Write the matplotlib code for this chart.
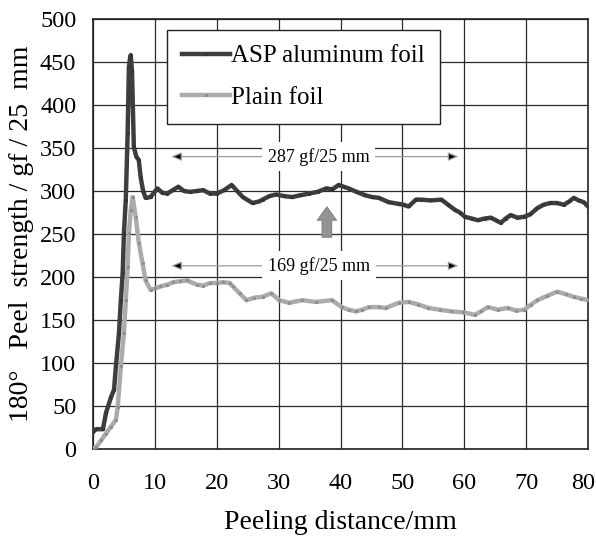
import matplotlib
matplotlib.use("Agg")
import matplotlib.pyplot as plt
from matplotlib.transforms import ScaledTranslation

plt.rcParams["font.family"] = ["Liberation Serif", "DejaVu Serif"]

# ----------------------------
# DATA
# ----------------------------
asp_x = [0, 0.5, 1.6, 2.1, 2.9, 3.4, 3.7, 4.2, 4.5, 4.8, 5.0, 5.3, 5.6, 5.8, 6.0,
         6.1, 6.3, 6.6, 7.0, 7.4, 7.7, 8.1, 8.5, 9.3, 10.4, 11.2, 12, 12.9, 13.8,
         14.7, 15.7, 16.8, 17.8, 18.9, 20, 21.2, 22.4, 23.3, 24.2, 25.8, 26.9,
         27.4, 28.5, 29.6, 30.9, 32.2, 33.5, 34.9, 36.3, 37.7, 38.7, 39.7, 40.5,
         41.3, 42.6, 44, 45.1, 46.2, 47.8, 49.4, 50.2, 51, 52.2, 53, 54.6, 56.3,
         57.4, 58.5, 59.3, 60.1, 61.2, 62.2, 63.3, 64.3, 65.1, 65.9, 66.7, 67.5,
         68.6, 69.7, 70.7, 71.8, 72.8, 73.9, 75, 76.1, 77, 77.7, 78.5, 79.3, 80]
asp_y = [20, 23, 23, 42, 60, 69, 96, 135, 173, 205, 251, 290, 367, 444, 455,
         458, 440, 351, 340, 336, 316, 300, 292, 293, 303, 298, 297, 301, 305,
         300, 299, 300, 301, 297, 297, 301, 307, 300, 293, 286, 288,
         290, 294, 296, 294, 293, 295, 297, 299, 303, 302, 307, 305,
         303, 299, 295, 293, 292, 287, 285, 284, 282, 290, 290, 289, 290,
         284, 278, 275, 270, 268, 266, 268, 269, 266, 263, 268, 272,
         269, 270, 273, 280, 284, 286, 286, 284, 288, 292, 289, 287, 282]

plain_x = [0, 0.5, 1.3, 2.1, 2.9, 3.7, 4.0, 4.5, 5.0, 5.3, 5.6, 5.8, 6.1, 6.4,
           6.9, 7.4, 8.0, 8.5, 9.3, 10.1, 10.9, 12, 13, 14.1, 15.2, 16.8, 17.8,
           18.9, 20, 21, 22.1, 22.6, 23.7, 24.8, 26.1, 27.4, 28.8, 30.1, 31.7,
           33.8, 36, 38.6, 40.2, 41.3, 42.5, 43.5, 44.6, 46.2, 47.3, 49.4, 51,
           52.6, 54.2, 56, 57.9, 59.8, 61.7, 62.7, 63.8, 65.4, 67, 68.4, 69.7,
           70.8, 71.8, 73.4, 75, 76.4, 77.7, 78.8, 80]
plain_y = [0, 2, 10, 18, 26, 34, 49, 96, 135, 173, 212, 251, 278, 293,
           270, 240, 216, 196, 185, 187, 189, 191, 194, 195, 196, 191, 190,
           193, 193, 194, 193, 189, 181, 173, 176, 177, 181, 173, 170,
           173, 171, 173, 165, 162, 160, 162, 165, 165, 164, 170, 171,
           168, 164, 162, 160, 159, 156, 160, 165, 162, 164, 161, 162,
           168, 173, 178, 183, 180, 177, 175, 173]

x_ticks = list(range(0, 81, 10))
y_ticks = list(range(0, 501, 50))

asp_label = "287 gf/25 mm"
plain_label = "169 gf/25 mm"

# ----------------------------
# PLOT
# ----------------------------
fig = plt.figure(figsize=(5.96, 5.36), dpi=100)
ax = fig.add_axes([93 / 596, 87 / 536, 495 / 596, 430 / 536])

ax.plot(asp_x, asp_y, color="#3e3e3e", lw=3.2, marker=".", ms=2.5,
        mfc="#333333", mec="#333333", label="ASP aluminum foil", zorder=4)
ax.plot(plain_x, plain_y, color="#ababab", lw=3.2, marker=".", ms=2.5,
        mfc="#8c8c8c", mec="#8c8c8c", label="Plain foil", zorder=3)

ax.set_xlim(0, 80)
ax.set_ylim(0, 500)
ax.set_xticks(x_ticks)
ax.set_yticks(y_ticks)
ax.grid(True, color="#2a2a2a", lw=0.9)
ax.set_axisbelow(True)
ax.tick_params(length=0, labelsize=17.5)
ax.tick_params(axis="x", pad=17)
ax.tick_params(axis="y", pad=12)
for s in ax.spines.values():
    s.set_color("#222222")
    s.set_linewidth(1.2)

# last x label sits a bit left of the right edge, as in the original
last = ax.get_xticklabels()[-1]
last.set_transform(last.get_transform() + ScaledTranslation(-5 / 100, 0, fig.dpi_scale_trans))

ax.set_xlabel("Peeling distance/mm", fontsize=20, labelpad=12)
ax.set_ylabel("180°   Peel  strength / gf / 25  mm", fontsize=20, labelpad=4)

# plateau annotations
for label, yv in [(asp_label, 340), (plain_label, 213)]:
    for end in (12.2, 59.5):
        ax.annotate("", xy=(end, yv), xytext=(36.5, yv),
                    arrowprops=dict(arrowstyle="-|>,head_length=0.6,head_width=0.25",
                                    fc="black", ec="#9a9a9a", lw=0.9),
                    zorder=5)
    ax.text(36.5, yv, label, ha="center", va="center", fontsize=13, zorder=6,
            bbox=dict(fc="white", ec="none", pad=4))

# upward arrow between curves
ax.annotate("", xy=(37.8, 285), xytext=(37.8, 243),
            arrowprops=dict(arrowstyle="simple,head_length=0.7,head_width=1.0,tail_width=0.5",
                            fc="#949494", ec="#7a7a7a", lw=0.6, mutation_scale=14),
            zorder=5)

leg = ax.legend(loc="upper left", bbox_to_anchor=(0.15, 0.975), borderaxespad=0,
                fontsize=18, frameon=True, fancybox=False, framealpha=1,
                handlelength=1.9, handletextpad=0.05, borderpad=0.6, labelspacing=0.75)
leg.get_frame().set_edgecolor("#222222")
leg.get_frame().set_linewidth(1.0)
leg.set_zorder(7)

fig.savefig("out.png", dpi=100)
